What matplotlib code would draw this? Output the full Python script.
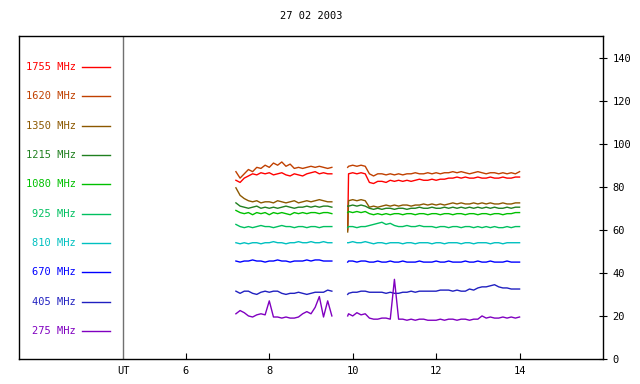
import matplotlib
matplotlib.use('Agg')
import matplotlib.pyplot as plt

# observation times (UT hours), two recording intervals
t1 = [7.2, 7.3, 7.4, 7.5, 7.6, 7.7, 7.8, 7.9, 8.0, 8.1, 8.2, 8.3,
      8.4, 8.5, 8.6, 8.7, 8.8, 8.9, 9.0, 9.1, 9.2, 9.3, 9.4, 9.5]
t2 = [9.88, 9.9, 10.0, 10.1, 10.2, 10.3, 10.4, 10.5, 10.6, 10.7, 10.8,
      10.9, 11.0, 11.1, 11.2, 11.3, 11.4, 11.5, 11.6, 11.7, 11.8, 11.9,
      12.0, 12.1, 12.2, 12.3, 12.4, 12.5, 12.6, 12.7, 12.8, 12.9, 13.0,
      13.1, 13.2, 13.3, 13.4, 13.5, 13.6, 13.7, 13.8, 13.9, 14.0]

freqs = ['1755 MHz', '1620 MHz', '1350 MHz', '1215 MHz', '1080 MHz',
         '925 MHz', '810 MHz', '670 MHz', '405 MHz', '275 MHz']
colors = ['#ff0000', '#c04000', '#8c5800', '#208020', '#00c000',
          '#00c060', '#00c0c0', '#0000ff', '#2020c0', '#8000c0']

f1755_a = [83, 82, 84, 85, 86, 85.5, 86.5, 86, 86.5, 85.5, 86, 86.5,
           85.5, 85, 86, 85.5, 85, 86, 86.5, 87, 86, 86.5, 86, 86]
f1755_b = [60, 86, 86.5, 86, 86.5, 86, 82, 81.5, 82.5, 82.5, 82, 83, 82.5,
           83, 82.5, 83, 82.5, 83, 83.5, 83, 83, 83.5, 83, 83.5, 83.5, 84,
           84, 84.5, 84, 84.5, 84, 84, 84.5, 84, 84, 84.5, 84, 84, 84.5,
           84, 84, 84.5, 84.5]

f1620_a = [87, 84, 86, 88, 87, 89, 88.5, 90, 89, 91, 90, 91.5,
           89.5, 90.5, 88.5, 89, 88.5, 89, 89.5, 89, 89.5, 89, 88.5, 89]
f1620_b = [89, 89.5, 90, 89.5, 90, 89.5, 86, 85, 86, 86, 85.5, 86, 85.5,
           86, 85.5, 86, 86, 86.5, 86, 86, 86.5, 86, 86.5, 86, 86.5, 86.5,
           87, 86.5, 87, 86.5, 86, 86.5, 87, 86.5, 86, 86.5, 86.5, 86,
           86.5, 86, 86.5, 86, 87]

f1350_a = [79.5, 76, 74.5, 73.5, 73, 73.5, 72.5, 73, 73, 72.5, 73.5, 73,
           72.5, 73, 73.5, 72.5, 73, 73.5, 73, 73.5, 74, 73.5, 73, 73]
f1350_b = [59, 73.5, 74, 73.5, 74, 73.5, 70.5, 71, 70.5, 71, 71.5, 71,
           71.5, 71, 71.5, 71.5, 71, 71.5, 71.5, 72, 71.5, 72, 71.5, 72,
           71.5, 72, 72.5, 72, 72.5, 72, 72, 72.5, 72, 72.5, 72, 72.5, 72,
           72, 72.5, 72, 72, 72.5, 72.5]

f1215_a = [72.5, 71, 70.5, 70, 70.5, 71, 70, 70.5, 70, 70.5, 70, 70.5,
           71, 70.5, 70, 70.5, 70.5, 71, 70.5, 71, 70.5, 71, 71, 70.5]
f1215_b = [71, 71, 71.5, 71, 71.5, 71, 70, 69.5, 70, 69.5, 70, 70, 69.5,
           70, 70, 69.5, 70, 70, 70.5, 70, 70, 70.5, 70, 70, 70.5, 70,
           70.5, 70, 70.5, 70, 70.5, 70, 70.5, 70, 70.5, 70, 70.5, 70, 70,
           70.5, 70, 70.5, 70.5]

f1080_a = [69, 68, 67.5, 68, 67, 68, 67.5, 68, 67, 68, 67.5, 68,
           67.5, 67, 68, 67.5, 68, 67.5, 68, 68, 67.5, 68, 68, 67.5]
f1080_b = [68, 68.5, 68, 68.5, 68, 68.5, 67.5, 67, 67.5, 67, 67.5, 67,
           67.5, 67.5, 67, 67.5, 67.5, 67, 67.5, 67.5, 67, 67.5, 67.5, 67,
           67.5, 67.5, 67, 67.5, 67.5, 67, 67.5, 67.5, 67, 67.5, 67.5, 67,
           67.5, 67.5, 67, 67.5, 67.5, 68, 68]

f925_a = [62.5, 61.5, 61, 61.5, 61, 61.5, 62, 61.5, 61.5, 61, 61.5, 62,
          61.5, 61.5, 61, 61.5, 61.5, 61, 61.5, 61.5, 61, 61.5, 61.5, 61.5]
f925_b = [61, 61.5, 61.5, 61, 61.5, 61.5, 62, 62.5, 63, 63.5, 62.5, 63,
          62, 61.5, 61.5, 62, 61.5, 61.5, 62, 61.5, 61.5, 61.5, 61, 61.5,
          61.5, 61, 61.5, 61.5, 61, 61.5, 61.5, 61, 61.5, 61, 61.5, 61,
          61.5, 61, 61, 61.5, 61, 61.5, 61.5]

f810_a = [54, 53.5, 54, 53.5, 54, 54, 53.5, 54, 54, 54.5, 54, 54,
          53.5, 54, 54, 54.5, 54, 54, 54.5, 54, 54, 54.5, 54, 54]
f810_b = [54, 54, 54.5, 54, 54, 54.5, 54, 53.5, 54, 54, 53.5, 54, 54,
          54, 53.5, 54, 54, 53.5, 54, 54, 54, 53.5, 54, 54, 53.5, 54, 54,
          54, 53.5, 54, 54, 53.5, 54, 54, 54, 53.5, 54, 54, 53.5, 54, 54,
          54, 54]

f670_a = [45.5, 45, 45.5, 45.5, 46, 45.5, 45.5, 45, 45.5, 45.5, 46, 45.5,
          45.5, 45, 45.5, 45.5, 45.5, 46, 45.5, 46, 46, 45.5, 45.5, 45.5]
f670_b = [45, 45.5, 45.5, 45, 45.5, 45.5, 45, 45, 45.5, 45, 45, 45.5, 45,
          45, 45.5, 45, 45, 45, 45.5, 45, 45, 45, 45.5, 45, 45, 45.5, 45,
          45, 45, 45.5, 45, 45, 45.5, 45, 45, 45.5, 45, 45, 45, 45.5, 45,
          45, 45]

f405_a = [31.5, 30.5, 31.5, 31.5, 30.5, 30, 31, 31.5, 31, 31.5, 31.5, 30.5,
          30, 30.5, 30.5, 31, 30.5, 30, 30.5, 31, 31, 31, 32, 31.5]
f405_b = [30, 30.5, 31, 31, 31.5, 31.5, 31, 31, 31, 31, 30.5, 31, 30.5,
          30.5, 31, 31, 31.5, 31, 31.5, 31.5, 31.5, 31.5, 31.5, 32, 32, 32,
          31.5, 32, 31.5, 31.5, 32.5, 32, 33, 33.5, 33.5, 34, 34.5, 33.5,
          33, 33, 32.5, 32.5, 32.5]

f275_a = [21, 22.5, 21.5, 20, 19.5, 20.5, 21, 20.5, 27, 19.5, 19.5, 19,
          19.5, 19, 19, 19.5, 21, 22, 21, 24, 29, 19.5, 27, 20]
f275_b = [20, 21, 20, 21.5, 20.5, 21, 19, 18.5, 18.5, 19, 19, 18.5, 37,
          18.5, 18.5, 18, 18.5, 18, 18.5, 18.5, 18, 18, 18, 18.5, 18, 18.5,
          18.5, 18, 18.5, 18.5, 18, 18.5, 18.5, 20, 19, 19.5, 19, 19, 19.5,
          19, 19.5, 19, 19.5]

series_a = [f1755_a, f1620_a, f1350_a, f1215_a, f1080_a,
            f925_a, f810_a, f670_a, f405_a, f275_a]
series_b = [f1755_b, f1620_b, f1350_b, f1215_b, f1080_b,
            f925_b, f810_b, f670_b, f405_b, f275_b]

font = 'DejaVu Sans Mono'
fs = 7.5

fig = plt.figure(figsize=(6.4, 3.84), dpi=100)
ax = fig.add_axes([19/640, 25/384, 584/640, 323/384])

for ya, yb, c in zip(series_a, series_b, colors):
    ax.plot(t1, ya, color=c, lw=1)
    ax.plot(t2, yb, color=c, lw=1)

# legend panel on the left
for i, (name, c) in enumerate(zip(freqs, colors)):
    yy = 135.6 - i * 13.62
    ax.text(3.36, yy, name, color=c, ha='right', va='center',
            family=font, fontsize=fs)
    ax.plot([3.51, 4.18], [yy, yy], color=c, lw=1)

ax.axvline(4.5, color='#707070', lw=1)

ax.set_xlim(2, 16)
ax.set_ylim(0, 150)
ax.set_xticks([4.5, 6, 8, 10, 12, 14])
ax.set_xticklabels(['UT', '6', '8', '10', '12', '14'], family=font, fontsize=fs)
ax.tick_params(axis='x', direction='in', length=4, width=0.8, pad=5)
ax.xaxis.get_major_ticks()[0].tick1line.set_visible(False)

ax.yaxis.tick_right()
ax.set_yticks([0, 20, 40, 60, 80, 100, 120, 140])
ax.set_yticklabels(['0', '20', '40', '60', '80', '100', '120', '140'],
                   family=font, fontsize=fs)
ax.tick_params(axis='y', direction='inout', length=6, width=0.8, pad=4)

for s in ax.spines.values():
    s.set_linewidth(1)

ax.set_title('27 02 2003', family=font, fontsize=fs, pad=12)

fig.savefig('out.png', dpi=100)
